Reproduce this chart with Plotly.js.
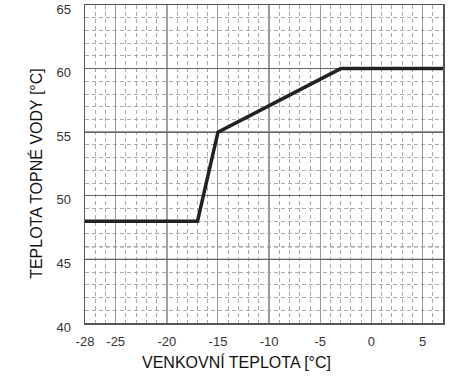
<!DOCTYPE html>
<html>
<head>
<meta charset="utf-8">
<script src="https://cdn.plot.ly/plotly-3.0.1.min.js"></script>
<style>html,body{margin:0;padding:0;background:#fff;}#chart{width:467px;height:382px;}</style>
</head>
<body>
<div id="chart"></div>
<script>
// Data
const outdoorTemp = [-28, -17, -15, -3, 7];
const waterTemp = [48, 48, 55, 60, 60];
const xTickVals = [-28, -25, -20, -15, -10, -5, 0, 5];
const xTickText = ['-28', '-25', '-20', '-15', '-10', '-5', '0', '5'];
const yTickVals = [40, 45, 50, 55, 60, 65];
const xTitle = 'VENKOVNÍ TEPLOTA [°C]';
const yTitle = 'TEPLOTA TOPNÉ VODY [°C]';
const darkGridX = [-20, -10];
const darkGridY = [45, 55];
const dashedDarkY = [46, 56];

const shapes = [];
darkGridX.forEach(v => shapes.push({type:'line', xref:'x', yref:'paper', x0:v, x1:v, y0:0, y1:1, line:{color:'#444', width:1.3}, layer:'below'}));
darkGridY.forEach(v => shapes.push({type:'line', xref:'paper', yref:'y', x0:0, x1:1, y0:v, y1:v, line:{color:'#333', width:1.3}, layer:'below'}));
dashedDarkY.forEach(v => shapes.push({type:'line', xref:'paper', yref:'y', x0:0, x1:1, y0:v, y1:v, line:{color:'#333', width:1.2, dash:'4px,3px'}, layer:'below'}));

const trace = {
  x: outdoorTemp, y: waterTemp, type:'scatter', mode:'lines',
  line:{color:'#222', width:3.5}, hoverinfo:'skip', cliponaxis:false
};

const layout = {
  width:467, height:382,
  margin:{l:85, r:24, t:5, b:59},
  paper_bgcolor:'#fff', plot_bgcolor:'#fff',
  showlegend:false,
  font:{family:'"Liberation Sans", Arial, sans-serif', color:'#333'},
  xaxis:{
    range:[-28, 7], tickmode:'array', tickvals:xTickVals, ticktext:xTickText,
    showgrid:true, gridcolor:'#999', gridwidth:1,
    minor:{tickmode:'linear', tick0:0, dtick:1, showgrid:true, gridcolor:'#aaa', griddash:'4px,3px', gridwidth:1},
    showline:true, mirror:true, linecolor:'#555', linewidth:1.5,
    ticks:'', ticklabelstandoff:6, tickfont:{size:13, color:'#333'}, zeroline:false,
    ticklabeloverflow:'allow'
  },
  yaxis:{
    range:[40, 65], tickmode:'array', tickvals:yTickVals,
    showgrid:true, gridcolor:'#666', gridwidth:1,
    minor:{tickmode:'linear', tick0:0, dtick:1, showgrid:true, gridcolor:'#aaa', griddash:'4px,3px', gridwidth:1},
    showline:true, mirror:true, linecolor:'#555', linewidth:1.5,
    ticks:'', ticklabelstandoff:10, ticklabelshift:4, tickfont:{size:13, color:'#333'}, zeroline:false,
    ticklabeloverflow:'allow'
  },
  annotations:[
    {text:xTitle, xref:'paper', yref:'paper', x:0.423, y:-0.122, xanchor:'center', yanchor:'middle', showarrow:false, font:{size:16, color:'#111'}},
    {text:yTitle, xref:'paper', yref:'paper', x:-0.137, y:0.472, xanchor:'center', yanchor:'middle', textangle:-90, showarrow:false, font:{size:16, color:'#111'}}
  ],
  shapes: shapes
};

Plotly.newPlot('chart', [trace], layout, {staticPlot:true, displayModeBar:false});
</script>
</body>
</html>
